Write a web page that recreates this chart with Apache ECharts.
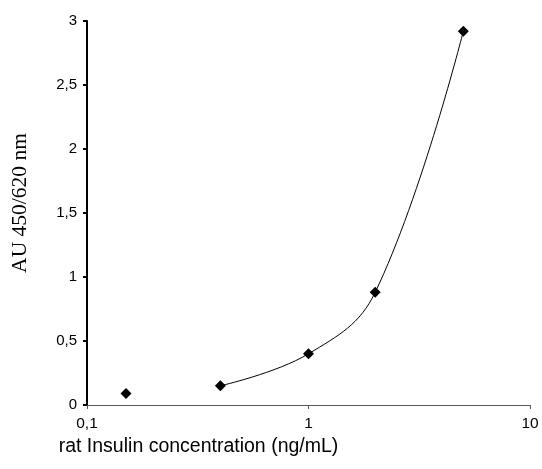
<!DOCTYPE html>
<html>
<head>
<meta charset="utf-8">
<script src="https://cdn.jsdelivr.net/npm/echarts@6/dist/echarts.min.js"></script>
<style>
  html, body { margin: 0; padding: 0; background: #fff; }
  #chart { width: 542px; height: 469px; }
</style>
</head>
<body>
<div id="chart"></div>
<script>
// 数据
var conc = [0.15, 0.4, 1, 2, 5];           // rat Insulin (ng/mL)
var absorb = [0.09, 0.15, 0.4, 0.88, 2.92]; // AU 450/620 nm
var fitFrom = 1; // 曲线从第二个点开始

(function () {
  var myChart = echarts.init(document.getElementById("chart"));

  var pts = conc.map(function (c, i) { return [c, absorb[i]]; });

  // 逗号作小数点
  function comma(v) {
    return String(v).replace(".", ",");
  }

  var option = {
    animation: false,
    grid: {
      left: 87,
      right: 12,
      top: 21,
      bottom: 64
    },
    xAxis: {
      type: "log",
      logBase: 10,
      min: 0.1,
      max: 10,
      name: "rat Insulin concentration (ng/mL)",
      nameLocation: "middle",
      nameGap: 30,
      nameTextStyle: {
        fontFamily: "Liberation Sans",
        fontSize: 19.5,
        color: "#000",
        padding: [0, 220, 0, 0]
      },
      axisLine: {
        onZero: false,
        lineStyle: { color: "#595959", width: 1 }
      },
      axisTick: {
        length: 4,
        lineStyle: { color: "#595959" }
      },
      minorTick: { show: false },
      splitLine: { show: false },
      axisLabel: {
        fontFamily: "Liberation Sans",
        fontSize: 15.5,
        color: "#000",
        margin: 11,
        formatter: comma
      }
    },
    yAxis: {
      type: "value",
      min: 0,
      max: 3,
      interval: 0.5,
      name: "AU 450/620 nm",
      nameLocation: "middle",
      nameGap: 56,
      nameTextStyle: {
        fontFamily: "Liberation Serif",
        fontSize: 21.5,
        color: "#000",
        padding: [0, 0, 0, 20]
      },
      axisLine: {
        show: true,
        lineStyle: { color: "#000", width: 2 }
      },
      axisTick: {
        show: true,
        length: 4,
        lineStyle: { color: "#000", width: 2 }
      },
      splitLine: { show: false },
      axisLabel: {
        fontFamily: "Liberation Sans",
        fontSize: 15,
        color: "#000",
        margin: 10,
        formatter: comma
      }
    },
    series: [
      {
        name: "fit",
        type: "line",
        smooth: 0.4,
        showSymbol: false,
        lineStyle: { color: "#000", width: 1 },
        data: pts.slice(fitFrom),
        z: 1
      },
      {
        name: "points",
        type: "scatter",
        symbol: "diamond",
        symbolSize: 11,
        itemStyle: { color: "#000", opacity: 1 },
        data: pts,
        z: 2
      }
    ]
  };

  myChart.setOption(option);
  window.addEventListener("resize", function () {
    myChart.resize();
  });
})();
</script>
</body>
</html>
